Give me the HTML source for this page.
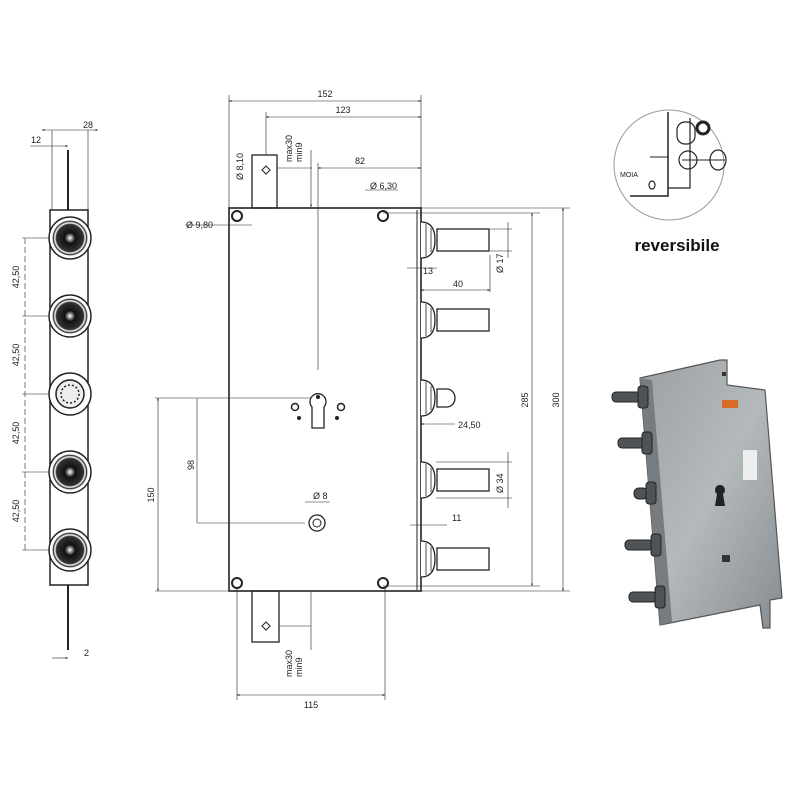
<!DOCTYPE html>
<html><head><meta charset="utf-8"><style>
html,body{margin:0;padding:0;background:#fff;}
svg{display:block;font-family:"Liberation Sans",sans-serif;}
</style></head><body>
<svg width="800" height="800" viewBox="0 0 800 800" xmlns="http://www.w3.org/2000/svg">
<defs>
<marker id="a" viewBox="0 0 10 10" refX="10" refY="5" markerWidth="6" markerHeight="4" orient="auto-start-reverse"><path d="M0,1 L10,5 L0,9z" fill="#222"/></marker>
<linearGradient id="g" x1="0" y1="0" x2="1" y2="1"><stop offset="0" stop-color="#9aa0a4"/><stop offset="0.5" stop-color="#b4b9bc"/><stop offset="1" stop-color="#868c90"/></linearGradient>
<radialGradient id="k"><stop offset="0" stop-color="#fff"/><stop offset="0.25" stop-color="#111"/><stop offset="0.65" stop-color="#333"/><stop offset="0.72" stop-color="#fff"/><stop offset="0.8" stop-color="#222"/><stop offset="0.85" stop-color="#fff"/><stop offset="1" stop-color="#fff"/></radialGradient>
</defs>
<g stroke="#222" fill="none" stroke-width="1">
<line x1="68" y1="150" x2="68" y2="210" stroke-width="2"/>
<line x1="68" y1="585" x2="68" y2="650" stroke-width="2"/>
<rect x="50" y="210" width="38" height="375" stroke-width="1.5"/>
<line x1="52" y1="130" x2="52" y2="210" stroke-width="0.6"/>
<line x1="88" y1="130" x2="88" y2="210" stroke-width="0.6"/>
<line x1="42" y1="130" x2="98" y2="130" stroke-width="0.6" marker-start="url(#a)" marker-end="url(#a)"/>
<line x1="30" y1="146" x2="68" y2="146" stroke-width="0.6" marker-end="url(#a)"/>
<line x1="52" y1="658" x2="68" y2="658" stroke-width="0.6" marker-end="url(#a)"/>
<line x1="25" y1="238" x2="25" y2="550" stroke-width="0.6" stroke-dasharray="6,3"/>
<g stroke-width="0.6">
<line x1="22" y1="238" x2="50" y2="238"/><line x1="22" y1="316" x2="50" y2="316"/><line x1="22" y1="394" x2="50" y2="394"/><line x1="22" y1="472" x2="50" y2="472"/><line x1="22" y1="550" x2="50" y2="550"/>
</g>
</g>
<g stroke="#222" stroke-width="1.5">
<circle cx="70" cy="238" r="21" fill="url(#k)"/>
<circle cx="70" cy="316" r="21" fill="url(#k)"/>
<circle cx="70" cy="394" r="21" fill="#fff"/>
<circle cx="70" cy="394" r="14" fill="#eee"/>
<circle cx="70" cy="394" r="9" fill="none" stroke-dasharray="2,2"/>
<circle cx="70" cy="472" r="21" fill="url(#k)"/>
<circle cx="70" cy="550" r="21" fill="url(#k)"/>
</g>
<g font-size="9" fill="#222">
<text x="88" y="128" text-anchor="middle">28</text>
<text x="36" y="143" text-anchor="middle">12</text>
<text x="84" y="656">2</text>
<g text-anchor="middle">
<text transform="translate(19,277) rotate(-90)">42,50</text>
<text transform="translate(19,355) rotate(-90)">42,50</text>
<text transform="translate(19,433) rotate(-90)">42,50</text>
<text transform="translate(19,511) rotate(-90)">42,50</text>
</g>
</g>

<g stroke="#222" fill="none">
<rect x="229" y="208" width="192" height="383" stroke-width="1.6"/>
<line x1="417" y1="210" x2="417" y2="590" stroke-width="1"/>
<rect x="252" y="155" width="25" height="53" stroke-width="1.3"/>
<rect x="252" y="591" width="27" height="51" stroke-width="1.3"/>
<g stroke-width="2"><circle cx="237" cy="216" r="5"/><circle cx="383" cy="216" r="5"/><circle cx="237" cy="583" r="5"/><circle cx="383" cy="583" r="5"/></g>
<path d="M262,170 l4,-4 l4,4 l-4,4z M262,626 l4,-4 l4,4 l-4,4z" stroke-width="1"/>
<path d="M312,407 A8,8 0 1 1 324,407 L324,428 L312,428 Z" stroke-width="1.3"/>
<circle cx="318" cy="397" r="1.5" fill="#222"/>
<circle cx="295" cy="407" r="3.5" stroke-width="1.5"/><circle cx="341" cy="407" r="3.5" stroke-width="1.5"/>
<circle cx="299" cy="418" r="1.5" fill="#222"/><circle cx="337" cy="418" r="1.5" fill="#222"/>
<circle cx="317" cy="523" r="8" stroke-width="1.3"/><circle cx="317" cy="523" r="4"/>
<g stroke-width="1.3">
<path d="M421,222 q14,0 14,18 q0,18 -14,18" fill="#fff"/>
<path d="M426,224 v32 M431,228 v24" stroke-width="0.8"/>
<rect x="437" y="229" width="52" height="22" fill="#fff"/>
<path d="M421,302 q14,0 14,18 q0,18 -14,18" fill="#fff"/>
<path d="M426,304 v32 M431,308 v24" stroke-width="0.8"/>
<rect x="437" y="309" width="52" height="22" fill="#fff"/>
<path d="M421,380 q14,0 14,18 q0,18 -14,18" fill="#fff"/>
<path d="M426,382 v32 M431,386 v24" stroke-width="0.8"/>
<path d="M437,389 h10 a8,9 0 0 1 0,18 h-10z" fill="#fff"/>
<path d="M421,462 q14,0 14,18 q0,18 -14,18" fill="#fff"/>
<path d="M426,464 v32 M431,468 v24" stroke-width="0.8"/>
<rect x="437" y="469" width="52" height="22" fill="#fff"/>
<path d="M421,541 q14,0 14,18 q0,18 -14,18" fill="#fff"/>
<path d="M426,543 v32 M431,547 v24" stroke-width="0.8"/>
<rect x="437" y="548" width="52" height="22" fill="#fff"/>
</g>
<g stroke-width="0.6">
<line x1="229" y1="95" x2="229" y2="208"/><line x1="421" y1="95" x2="421" y2="208"/>
<line x1="229" y1="101" x2="421" y2="101" marker-start="url(#a)" marker-end="url(#a)"/>
<line x1="266" y1="112" x2="266" y2="155"/>
<line x1="266" y1="117" x2="421" y2="117" marker-start="url(#a)" marker-end="url(#a)"/>
<line x1="318" y1="168" x2="421" y2="168" marker-start="url(#a)" marker-end="url(#a)"/>
<line x1="318" y1="163" x2="318" y2="370"/>
<line x1="277" y1="168" x2="312" y2="168"/>
<line x1="311" y1="150" x2="311" y2="207" marker-end="url(#a)"/>
<line x1="185" y1="225" x2="252" y2="225"/>
<line x1="365" y1="190" x2="398" y2="190"/>
<line x1="421" y1="208" x2="570" y2="208"/><line x1="421" y1="591" x2="570" y2="591"/>
<line x1="563" y1="208" x2="563" y2="591" marker-start="url(#a)" marker-end="url(#a)"/>
<line x1="383" y1="213" x2="540" y2="213"/><line x1="383" y1="586" x2="540" y2="586"/>
<line x1="532" y1="213" x2="532" y2="586" marker-start="url(#a)" marker-end="url(#a)"/>
<line x1="490" y1="229" x2="512" y2="229"/><line x1="490" y1="251" x2="512" y2="251"/>
<line x1="508" y1="222" x2="508" y2="258"/>
<line x1="421" y1="290" x2="490" y2="290" marker-start="url(#a)" marker-end="url(#a)"/>
<line x1="490" y1="255" x2="490" y2="292"/>
<line x1="407" y1="268" x2="437" y2="268"/>
<line x1="421" y1="424" x2="455" y2="424" marker-start="url(#a)"/>
<line x1="436" y1="462" x2="512" y2="462"/><line x1="436" y1="498" x2="512" y2="498"/>
<line x1="508" y1="452" x2="508" y2="508"/>
<line x1="410" y1="525" x2="447" y2="525"/>
<line x1="155" y1="398" x2="310" y2="398"/>
<line x1="158" y1="398" x2="158" y2="591" marker-start="url(#a)" marker-end="url(#a)"/>
<line x1="155" y1="591" x2="229" y2="591"/>
<line x1="197" y1="398" x2="197" y2="523"/>
<line x1="197" y1="523" x2="305" y2="523"/>
<line x1="305" y1="502" x2="330" y2="502"/>
<line x1="237" y1="588" x2="237" y2="700"/><line x1="385" y1="588" x2="385" y2="700"/>
<line x1="237" y1="695" x2="385" y2="695" marker-start="url(#a)" marker-end="url(#a)"/>
<line x1="311" y1="592" x2="311" y2="650"/>
<line x1="279" y1="626" x2="311" y2="626"/>
</g>
</g>
<g font-size="9" fill="#222">
<text x="325" y="97" text-anchor="middle">152</text>
<text x="343" y="113" text-anchor="middle">123</text>
<text x="360" y="164" text-anchor="middle">82</text>
<text x="370" y="189">Ø 6,30</text>
<text x="186" y="228">Ø 9,80</text>
<text transform="translate(243,180) rotate(-90)">Ø 8,10</text>
<text transform="translate(292,162) rotate(-90)">max30</text>
<text transform="translate(302,162) rotate(-90)">min9</text>
<text transform="translate(292,677) rotate(-90)">max30</text>
<text transform="translate(302,677) rotate(-90)">min9</text>
<text x="423" y="274">13</text>
<text x="453" y="287">40</text>
<text transform="translate(503,273) rotate(-90)">Ø 17</text>
<text x="458" y="428">24,50</text>
<text transform="translate(503,493) rotate(-90)">Ø 34</text>
<text x="452" y="521">11</text>
<text x="313" y="499">Ø 8</text>
<text transform="translate(194,465) rotate(-90)" text-anchor="middle">98</text>
<text transform="translate(154,495) rotate(-90)" text-anchor="middle">150</text>
<text transform="translate(528,400) rotate(-90)" text-anchor="middle">285</text>
<text transform="translate(559,400) rotate(-90)" text-anchor="middle">300</text>
<text x="311" y="708" text-anchor="middle">115</text>
</g>

<g stroke="#222" fill="none">
<circle cx="669" cy="165" r="55" stroke="#999" stroke-width="1"/>
<path d="M668,112 V196 H630" stroke-width="1.5"/>
<path d="M690,118 V188 H668" stroke-width="1.2"/>
<rect x="677" y="122" width="18" height="22" rx="8" stroke-width="1.2"/>
<circle cx="703" cy="128" r="6" stroke-width="3"/>
<circle cx="688" cy="160" r="9" stroke-width="1.2"/>
<ellipse cx="718" cy="160" rx="8" ry="10" stroke-width="1.2"/>
<line x1="682" y1="160" x2="725" y2="160" stroke-width="1"/>
<line x1="650" y1="157" x2="668" y2="157" stroke-width="1"/>
<ellipse cx="652" cy="185" rx="3" ry="4" stroke-width="1.2"/>
</g>
<text x="620" y="177" font-size="7" fill="#222">MOIA</text>
<text x="677" y="251" text-anchor="middle" font-size="17" font-weight="bold" fill="#111">reversibile</text>

<path d="M720,360 L727,360 L727,385 L765,390 L782,598 L770,600 L770,628 L763,628 L760,605 L660,625 L640,378 Z" fill="url(#g)" stroke="#555" stroke-width="1.2"/>
<path d="M640,378 L652,380 L672,622 L660,625 Z" fill="#767c80"/>
<rect x="722" y="372" width="4" height="4" fill="#333"/>
<rect x="722" y="400" width="16" height="8" fill="#d86b2a"/>
<rect x="743" y="450" width="14" height="30" fill="#eee"/>
<path d="M717,494 a5,5 0 1 1 6,0 l2,12 h-10z" fill="#222"/>
<rect x="722" y="555" width="8" height="7" fill="#333"/>
<g fill="#4d5356" stroke="#222" stroke-width="1">
<rect x="612" y="392" width="30" height="10" rx="4"/><rect x="638" y="386" width="10" height="22" rx="3"/>
<rect x="618" y="438" width="28" height="10" rx="4"/><rect x="642" y="432" width="10" height="22" rx="3"/>
<rect x="634" y="488" width="14" height="11" rx="5"/><rect x="646" y="482" width="10" height="22" rx="3"/>
<rect x="625" y="540" width="28" height="10" rx="4"/><rect x="651" y="534" width="10" height="22" rx="3"/>
<rect x="629" y="592" width="28" height="10" rx="4"/><rect x="655" y="586" width="10" height="22" rx="3"/>
</g>
</svg>
</body></html>
